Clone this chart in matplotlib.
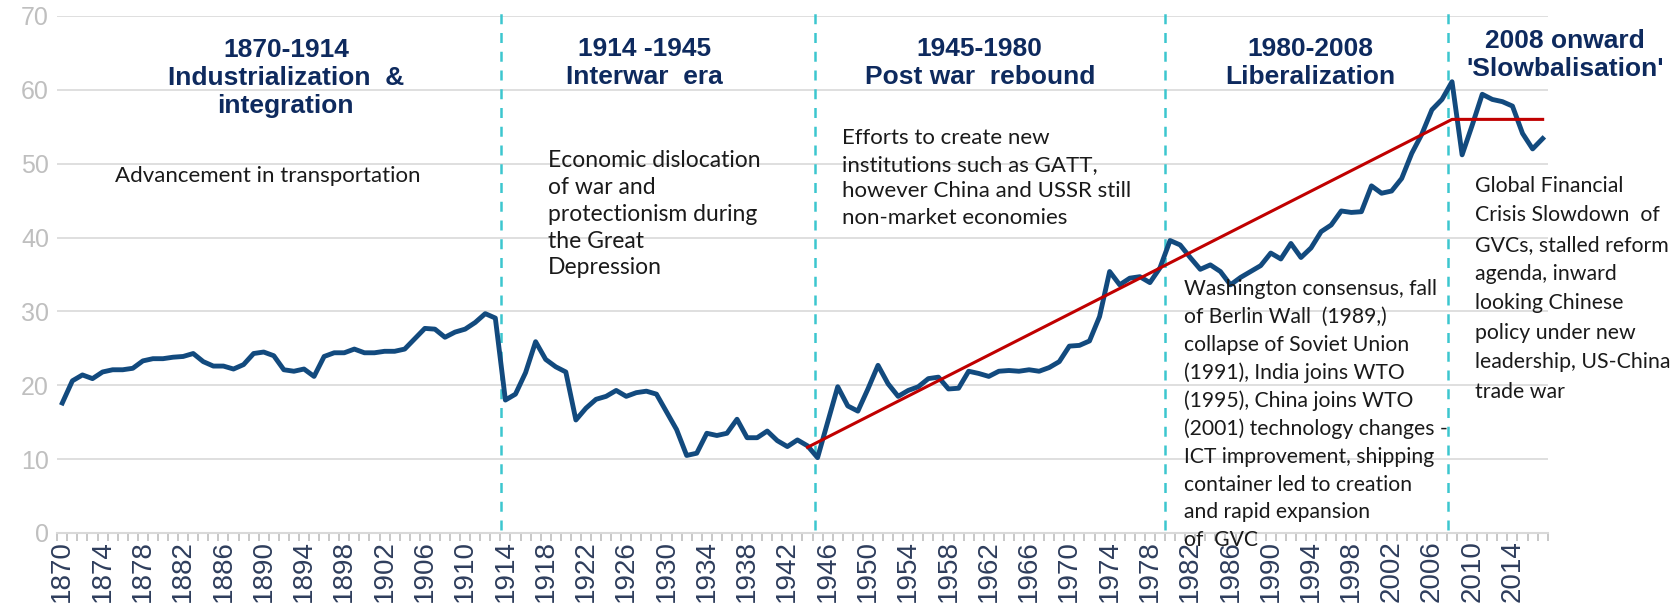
import numpy as np
import matplotlib
matplotlib.use("Agg")
import matplotlib.pyplot as plt

# trade openness, % of world GDP, 1870-2017
years = list(range(1870, 2018))
openness = [
    # 1870-1913
    17.6, 20.6, 21.4, 20.9, 21.8, 22.1, 22.1, 22.3, 23.3, 23.6,
    23.6, 23.8, 23.9, 24.3, 23.2, 22.6, 22.6, 22.2, 22.8, 24.3,
    24.5, 24.0, 22.1, 21.9, 22.2, 21.2, 23.9, 24.4, 24.4, 24.9,
    24.4, 24.4, 24.6, 24.6, 24.9, 26.3, 27.7, 27.6, 26.5, 27.2,
    27.6, 28.5, 29.7, 29.1,
    # 1914-1945
    18.0, 18.8, 21.7, 25.9, 23.5, 22.5, 21.8, 15.3, 16.9, 18.1,
    18.5, 19.3, 18.5, 19.0, 19.2, 18.8, 16.4, 14.0, 10.5, 10.8,
    13.5, 13.2, 13.5, 15.4, 12.9, 12.9, 13.8, 12.5, 11.7, 12.6,
    11.8, 10.2,
    # 1946-1979
    15.0, 19.8, 17.2, 16.5, 19.5, 22.7, 20.2, 18.5, 19.3, 19.8,
    20.9, 21.1, 19.5, 19.6, 21.9, 21.6, 21.2, 21.9, 22.0, 21.9,
    22.1, 21.9, 22.4, 23.2, 25.3, 25.4, 26.0, 29.3, 35.4, 33.6,
    34.5, 34.7, 33.9, 35.9,
    # 1980-2017
    39.6, 39.0, 37.3, 35.7, 36.3, 35.4, 33.6, 34.6, 35.4, 36.2,
    37.9, 37.1, 39.2, 37.3, 38.6, 40.8, 41.7, 43.6, 43.4, 43.5,
    47.0, 46.0, 46.3, 48.0, 51.4, 54.0, 57.3, 58.7, 61.1, 51.2,
    55.2, 59.4, 58.7, 58.4, 57.8, 54.1, 52.0, 53.4,
]

trend_years = [1944, 2008, 2017]
trend_vals = [11.6, 56.0, 56.0]

era_breaks = [1913.6, 1944.7, 1979.5, 2007.6]

titles = [
    ("1870-1914\nIndustrialization  &\nintegration", 1892.2, 67.0),
    ("1914 -1945\nInterwar  era", 1927.8, 67.2),
    ("1945-1980\nPost war  rebound", 1961.1, 67.2),
    ("1980-2008\nLiberalization", 1993.9, 67.2),
    ("2008 onward\n'Slowbalisation'", 2019.2, 68.2),
]

# text, x, y of first line, line step (px), font size
notes = [
    (["Advancement in transportation"], 1875.2, 48.3, 27, 16),
    (["Economic dislocation", "of war and", "protectionism during",
      "the Great", "Depression"], 1918.2, 50.4, 26.8, 16.5),
    (["Efforts to create new", "institutions such as GATT,",
      "however China and USSR still", "non-market economies"], 1947.4, 53.5, 26.8, 16),
    (["Washington consensus, fall", "of Berlin Wall  (1989,)",
      "collapse of Soviet Union", "(1991), India joins WTO",
      "(1995), China joins WTO", "(2001) technology changes -",
      "ICT improvement, shipping", "container led to creation",
      "and rapid expansion", "of  GVC"], 1981.4, 33.0, 27.9, 15.2),
    (["Global Financial", "Crisis Slowdown  of", "GVCs, stalled reform",
      "agenda, inward", "looking Chinese", "policy under new",
      "leadership, US-China", "trade war"], 2010.3, 47.0, 29.4, 15.3),
]

fig = plt.figure(figsize=(16.79, 6.12), dpi=100)
ax = fig.add_axes([0.0341, 0.1291, 0.8877, 0.8448])

ax.plot(years, openness, color="#124A7E", lw=3.5, solid_joinstyle="round", zorder=4)
ax.plot(trend_years, trend_vals, color="#C00000", lw=2.2, zorder=5)

for xb in era_breaks:
    ax.plot([xb, xb], [0.4, 70.9], color="#3CC6CF", lw=1.8,
            dashes=(4, 3.5), clip_on=False, zorder=3)

ax.set_xlim(1869.5, 2017.5)
ax.set_ylim(0, 70)
ax.set_yticks(range(0, 71, 10))
ax.grid(axis="y", color="#D9D9D9", lw=1.2)
ax.set_axisbelow(True)
for s in ["top", "right", "left"]:
    ax.spines[s].set_visible(False)
ax.spines["bottom"].set_color("#D9D9D9")
ax.spines["bottom"].set_linewidth(1.5)

ax.set_xticks(range(1870, 2018, 4))
ax.set_xticklabels([str(y) for y in range(1870, 2018, 4)], rotation=90,
                   fontsize=20, color="#2E3D5C", family="Liberation Sans")
ax.set_xticks(np.arange(1869.5, 2018, 1), minor=True)
ax.tick_params(axis="x", which="major", length=0, pad=5)
ax.tick_params(axis="x", which="minor", length=6, color="#BFBFBF", width=1.2)
ax.tick_params(axis="y", length=0, pad=6, labelsize=18, labelcolor="#BFBFBF")
for lbl in ax.get_yticklabels():
    lbl.set_family("Liberation Sans")

for txt, x, y in titles:
    ax.text(x, y, txt, ha="center", va="top", fontsize=19, fontweight="bold",
            color="#0E2A5E", family="Liberation Sans", linespacing=1.22,
            clip_on=False)

px_per_unit = 0.8448 * 612 / 70
for lines, x, y, step, size in notes:
    for i, line in enumerate(lines):
        ax.text(x, y - i * step / px_per_unit, line, ha="left", va="center",
                fontsize=size, color="#1A1A1A", family="Lato",
                clip_on=False, zorder=6)

fig.savefig("out.png", dpi=100)
